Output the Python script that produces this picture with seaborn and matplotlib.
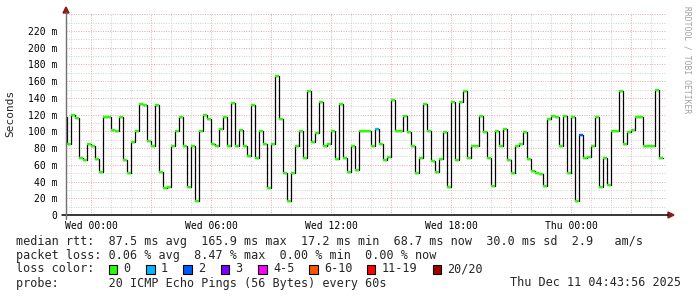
import numpy as np
import pandas as pd
import matplotlib
matplotlib.use("Agg")
import matplotlib.pyplot as plt
import seaborn as sns
from matplotlib.patches import Rectangle, Polygon

# ---- data (median RTT in ms per 12-minute step, starting Tue 22:36) ----
median_ms = [117, 85, 119, 116, 68, 66, 85, 82, 67, 52,
             117, 117, 102, 100, 117, 66, 50, 87, 101, 133,
             132, 88, 83, 132, 52, 32, 34, 83, 100, 117,
             83, 34, 83, 17, 100, 120, 115, 85, 82, 103,
             117, 82, 134, 83, 102, 82, 70, 132, 68, 100,
             85, 32, 85, 166, 115, 50, 17, 50, 83, 100,
             68, 148, 87, 98, 135, 83, 85, 100, 67, 133,
             68, 52, 82, 54, 101, 100, 100, 82, 103, 85,
             66, 69, 137, 100, 100, 118, 99, 83, 50, 68,
             133, 100, 65, 52, 67, 99, 34, 135, 66, 135,
             148, 68, 82, 83, 118, 99, 68, 35, 100, 82,
             103, 66, 50, 83, 85, 99, 67, 53, 50, 49,
             35, 115, 118, 117, 83, 118, 50, 117, 17, 96,
             68, 69, 83, 117, 34, 68, 36, 100, 100, 148,
             85, 99, 102, 117, 117, 83, 83, 82, 150, 68]
lossy_steps = [78, 129]
lossy_counts = [1, 2]

step_hours = 0.2               # 12 minutes
first_step_start = -1.4        # Tue 22:36 relative to Wed 00:00
x_start, x_end = -1.2667, 28.7333   # Tue 22:44 .. Thu 04:44

xtick_hours = [0, 6, 12, 18, 24]
xtick_labels = ["Wed 00:00", "Wed 06:00", "Wed 12:00", "Wed 18:00", "Thu 00:00"]
ytick_values = list(range(0, 221, 20))

loss_legend_labels = ["0", "1", "2", "3", "4-5", "6-10", "11-19", "20/20"]
loss_legend_colors = ["#26ff00", "#00b8ff", "#0059ff", "#7e00ff",
                      "#ff00ff", "#ff5500", "#ff0000", "#a10000"]

stats_line = "median rtt:  87.5 ms avg  165.9 ms max  17.2 ms min  68.7 ms now  30.0 ms sd  2.9   am/s"
loss_line = "packet loss: 0.06 % avg  8.47 % max  0.00 % min  0.00 % now"
probe_line = "probe:       20 ICMP Echo Pings (56 Bytes) every 60s"
date_line = "Thu Dec 11 04:43:56 2025"

# ---- figure ----
sns.set_style("white")
plt.rcParams["font.family"] = ["DejaVu Sans Mono", "DejaVu Sans"]
W, H = 697, 297
fig = plt.figure(figsize=(W / 100, H / 100), dpi=100)
fig.patch.set_facecolor("white")


def fx(px):
    return px / W


def fy(py):
    return 1 - py / H


ax = fig.add_axes([fx(66), fy(215), fx(666) - fx(66), fy(13) - fy(215)])
ax.set_facecolor("white")

n = len(median_ms)
starts = first_step_start + step_hours * np.arange(n)
ends = starts + step_hours
loss = np.zeros(n, dtype=int)
for i, c in zip(lossy_steps, lossy_counts):
    loss[i] = c
seg_colors = [loss_legend_colors[c] for c in loss]

df = pd.DataFrame({"t": np.append(starts, ends[-1]),
                   "ms": np.append(median_ms, median_ms[-1])})
sns.lineplot(data=df, x="t", y="ms", drawstyle="steps-post", color="black",
             lw=0.9, estimator=None, ax=ax, legend=False, zorder=3)
ax.hlines(median_ms, starts, ends, colors=seg_colors, lw=1.7, zorder=4)

ax.set_xlim(x_start, x_end)
ax.set_ylim(0, 241.5)

# grid
for h in range(-1, 29):
    major = (h % 3 == 0)
    ax.axvline(h, color="#e4a8a8" if major else "#cfcfcf", lw=0.7,
               ls=(0, (1, 1.5)), zorder=1)
for v in range(10, 241, 10):
    major = (v % 20 == 0)
    ax.axhline(v, color="#e4a8a8" if major else "#cfcfcf", lw=0.7,
               ls=(0, (1, 1.5)), zorder=1)

for s in ax.spines.values():
    s.set_visible(False)

ax.set_xticks(xtick_hours)
ax.set_xticklabels(xtick_labels)
ax.set_yticks(ytick_values)
ax.set_yticklabels([("%d m" % v) if v else "0" for v in ytick_values])
ax.tick_params(axis="both", length=0, labelsize=7, colors="black")
ax.tick_params(axis="y", pad=6)
ax.tick_params(axis="x", pad=4)
ax.set_xlabel("")
ax.set_ylabel("")

# axes lines with arrows
fig.add_artist(plt.Line2D([fx(62), fx(668)], [fy(215), fy(215)],
                          color="black", lw=1.1, transform=fig.transFigure))
fig.add_artist(plt.Line2D([fx(66), fx(66)], [fy(219), fy(12)],
                          color="#707070", lw=1.0, transform=fig.transFigure))
fig.add_artist(Polygon([[fx(668), fy(212)], [fx(674), fy(215)], [fx(668), fy(218)]],
                       closed=True, color="#8b1a1a", transform=fig.transFigure))
fig.add_artist(Polygon([[fx(63), fy(13)], [fx(66), fy(7)], [fx(69), fy(13)]],
                       closed=True, color="#8b1a1a", transform=fig.transFigure))

# labels
fig.text(fx(10), fy(113), "Seconds", rotation=90, ha="center", va="center",
         fontsize=8)
fig.text(fx(687), fy(60), "RRDTOOL / TOBI OETIKER", rotation=270,
         ha="center", va="center", fontsize=5.8, color="#a0a0a0")

txt_size = 8.5
fig.text(fx(16), fy(241), stats_line, ha="left", va="center", fontsize=txt_size)
fig.text(fx(16), fy(255), loss_line, ha="left", va="center", fontsize=txt_size)
fig.text(fx(16), fy(269), "loss color:", ha="left", va="center", fontsize=txt_size)
box_x = [108.5, 146, 183.5, 220.5, 258, 309, 367, 432.5]
for bx, lab, col in zip(box_x, loss_legend_labels, loss_legend_colors):
    fig.add_artist(Rectangle((fx(bx), fy(273.5)), fx(8.5), fy(264.5) - fy(273.5),
                             facecolor=col, edgecolor="black", lw=0.8,
                             transform=fig.transFigure))
    fig.text(fx(bx + 15), fy(269), lab, ha="left", va="center", fontsize=txt_size)
fig.text(fx(16), fy(283), probe_line, ha="left", va="center", fontsize=txt_size)
fig.text(fx(681), fy(283), date_line, ha="right", va="center", fontsize=txt_size)

fig.savefig("out.png", dpi=100, facecolor="white")
